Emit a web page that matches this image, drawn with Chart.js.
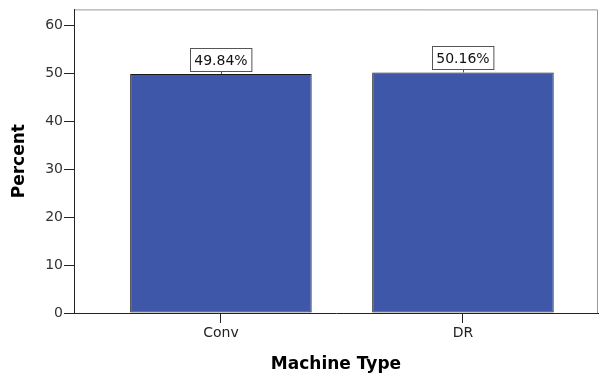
<!DOCTYPE html>
<html>
<head>
<meta charset="utf-8">
<script src="https://cdn.jsdelivr.net/npm/chart.js@4/dist/chart.umd.min.js"></script>
<style>
  body { margin: 0; background: #fff; }
  #wrap { width: 609px; height: 377px; }
</style>
</head>
<body>
<div id="wrap"><canvas id="barChart" width="609" height="377"></canvas></div>
<script>
const categories = ["Conv", "DR"];
const percents = [49.84, 50.16];
const yTicks = [0, 10, 20, 30, 40, 50, 60];

const barColor = "#3e57a8";
const fontFam = "'DejaVu Sans', Arial, sans-serif";

// value boxes above each bar
const valueBoxes = {
  id: "valueBoxes",
  afterDatasetsDraw(chart) {
    const ctx = chart.ctx;
    const meta = chart.getDatasetMeta(0);
    ctx.save();
    ctx.font = "14px " + fontFam;
    ctx.textAlign = "center";
    ctx.textBaseline = "middle";
    meta.data.forEach((bar, i) => {
      const txt = percents[i].toFixed(2) + "%";
      const w = ctx.measureText(txt).width + 8;
      const h = 23;
      const bx = Math.round(bar.x - w / 2) + 0.5;
      const by = Math.round(bar.y - 3 - h) + 0.5;
      ctx.strokeStyle = "#555";
      ctx.lineWidth = 1;
      ctx.beginPath();
      ctx.moveTo(Math.round(bar.x) + 0.5, by + h);
      ctx.lineTo(Math.round(bar.x) + 0.5, bar.y);
      ctx.stroke();
      ctx.fillStyle = "#fff";
      ctx.fillRect(bx, by, w, h);
      ctx.strokeRect(bx, by, w, h);
      ctx.fillStyle = "#111";
      ctx.fillText(txt, bar.x, by + h / 2 + 1);
    });
    ctx.restore();
  },
};

// light frame on top and right
const frame = {
  id: "frame",
  beforeDraw(chart) {
    const { left, right, top, bottom } = chart.chartArea;
    const ctx = chart.ctx;
    ctx.save();
    ctx.strokeStyle = "#999";
    ctx.lineWidth = 1;
    ctx.beginPath();
    ctx.moveTo(left, top + 0.5);
    ctx.lineTo(right - 0.5, top + 0.5);
    ctx.lineTo(right - 0.5, bottom);
    ctx.stroke();
    ctx.restore();
  },
};

new Chart("barChart", {
  type: "bar",
  data: {
    datasets: [
      {
        data: categories.map((c, i) => ({ x: i, y: percents[i] })),
        backgroundColor: barColor,
        borderColor: "#1a1a1a",
        borderWidth: 1,
        borderSkipped: false,
        categoryPercentage: 1,
        barPercentage: 0.75,
      },
    ],
  },
  options: {
    responsive: false,
    animation: false,
    devicePixelRatio: 1,
    layout: { padding: { top: 7, right: 11, left: 0, bottom: 0 } },
    plugins: {
      legend: { display: false },
      tooltip: { enabled: false },
    },
    scales: {
      x: {
        type: "linear",
        offset: false,
        min: -0.607,
        max: 1.558,
        afterBuildTicks: (s) => {
          s.ticks = categories.map((c, i) => ({ value: i }));
        },
        afterFit: (s) => {
          s.height = 64;
        },
        ticks: {
          callback: (v) => categories[v],
          color: "#222",
          font: { family: fontFam, size: 14 },
          padding: 2,
          maxRotation: 0,
          autoSkip: false,
        },
        grid: { offset: false, drawOnChartArea: false, drawTicks: true, tickLength: 10, color: "#222" },
        border: { display: true, color: "#222", width: 1 },
        title: {
          display: true,
          text: "Machine Type",
          color: "#000",
          font: { family: fontFam, size: 17, weight: "bold" },
          padding: { top: 0, bottom: 2 },
        },
      },
      y: {
        min: 0,
        max: 63.3,
        afterBuildTicks: (s) => {
          s.ticks = yTicks.map((v) => ({ value: v }));
        },
        afterFit: (s) => {
          s.width = 74;
        },
        ticks: {
          color: "#333",
          font: { family: fontFam, size: 14 },
          padding: 1,
        },
        grid: { drawOnChartArea: false, drawTicks: true, tickLength: 10, color: "#222" },
        border: { display: true, color: "#222", width: 1 },
        title: {
          display: true,
          text: "Percent",
          color: "#000",
          font: { family: fontFam, size: 17, weight: "bold" },
          padding: { top: 9, bottom: 0 },
        },
      },
    },
  },
  plugins: [frame, valueBoxes],
});
</script>
</body>
</html>
